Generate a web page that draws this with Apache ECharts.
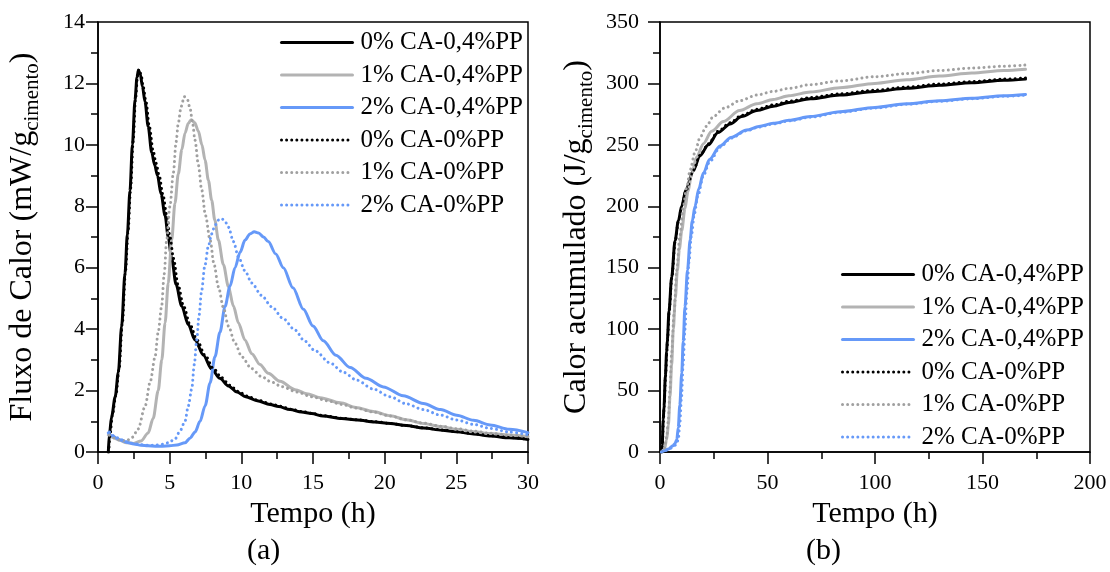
<!DOCTYPE html>
<html>
<head>
<meta charset="utf-8">
<script src="https://cdn.jsdelivr.net/npm/echarts@6/dist/echarts.min.js"></script>
<style>
html,body{margin:0;padding:0;background:#fff;}
#chart{width:1110px;height:572px;}
</style>
</head>
<body>
<div id="chart"></div>
<script>
// ---------- DATA ----------
const seriesNames = ['0% CA-0,4%PP','1% CA-0,4%PP','2% CA-0,4%PP','0% CA-0%PP','1% CA-0%PP','2% CA-0%PP'];

// (a) Heat flow [time h, mW/g]
const fluxo_0CA_04PP = [[0.72,0],[0.8,0.6],[0.95,1.15],[1.2,1.8],[1.42,2.6],[1.65,4.1],[1.88,5.8],[2.05,7.1],[2.23,8.5],[2.4,10.0],[2.58,11.45],[2.72,12.2],[2.82,12.44],[2.95,12.3],[3.1,11.9],[3.28,11.4],[3.5,10.6],[3.75,9.75],[3.95,9.35],[4.15,9.0],[4.4,8.4],[4.68,7.7],[4.9,7.0],[5.14,6.3],[5.45,5.45],[5.84,4.75],[6.3,4.15],[6.77,3.65],[7.35,3.15],[7.93,2.7],[8.5,2.4],[9.1,2.15],[9.7,1.95],[10.3,1.8],[11.1,1.67],[12.0,1.55],[12.6,1.48],[13.4,1.38],[14.2,1.3],[14.9,1.25],[15.7,1.17],[17,1.09],[18.1,1.04],[19.3,0.98],[20.4,0.93],[21.5,0.86],[22.7,0.78],[24,0.71],[25,0.66],[26.2,0.59],[27.4,0.52],[28.7,0.46],[30,0.41]];
const fluxo_1CA_04PP = [[0.72,0.55],[1.0,0.48],[1.5,0.38],[2.0,0.3],[2.5,0.28],[3.0,0.36],[3.5,0.62],[3.85,1.1],[4.2,2.0],[4.45,3.0],[4.68,4.2],[4.9,5.5],[5.14,6.9],[5.37,8.1],[5.6,9.05],[5.85,9.85],[6.07,10.38],[6.3,10.7],[6.5,10.82],[6.75,10.72],[7.0,10.45],[7.25,10.0],[7.47,9.5],[7.7,8.85],[7.93,8.2],[8.15,7.55],[8.4,6.9],[8.75,6.1],[9.1,5.38],[9.45,4.75],[9.8,4.2],[10.25,3.65],[10.73,3.2],[11.3,2.85],[11.88,2.56],[12.7,2.3],[13.75,2.03],[14.56,1.9],[15.5,1.77],[16.9,1.6],[18,1.45],[19.2,1.32],[20.4,1.18],[21.5,1.05],[22.7,0.93],[23.9,0.83],[25,0.74],[26.2,0.66],[27.4,0.6],[28.7,0.55],[30,0.5]];
const fluxo_2CA_04PP = [[0.72,0.62],[1.0,0.52],[1.5,0.4],[2.0,0.32],[2.5,0.26],[3.0,0.22],[3.5,0.2],[4.0,0.19],[4.5,0.19],[5.0,0.2],[5.5,0.23],[6.07,0.3],[6.42,0.45],[6.77,0.65],[7.12,1.0],[7.47,1.5],[7.82,2.25],[8.16,3.1],[8.51,3.9],[8.86,4.73],[9.21,5.4],[9.56,6.0],[9.91,6.5],[10.26,6.9],[10.6,7.1],[10.9,7.17],[11.2,7.13],[11.55,7.0],[11.88,6.85],[12.4,6.45],[12.93,6.0],[13.6,5.35],[14.33,4.65],[15.0,4.1],[15.72,3.62],[16.6,3.15],[17.59,2.75],[18.7,2.4],[19.91,2.12],[21.3,1.83],[22.7,1.58],[23.9,1.38],[25.03,1.2],[26.2,1.03],[27.36,0.88],[28.7,0.74],[30,0.63]];
const fluxo_0CA_0PP = [[0.75,0],[0.85,0.6],[1.0,1.2],[1.25,1.85],[1.47,2.7],[1.7,4.2],[1.92,5.9],[2.1,7.2],[2.28,8.6],[2.45,10.1],[2.62,11.5],[2.76,12.25],[2.86,12.45],[3.0,12.3],[3.15,11.9],[3.35,11.4],[3.58,10.6],[3.85,9.8],[4.05,9.4],[4.27,9.0],[4.52,8.4],[4.8,7.7],[5.02,7.0],[5.27,6.3],[5.58,5.45],[5.97,4.75],[6.42,4.15],[6.9,3.65],[7.47,3.15],[8.05,2.72],[8.62,2.42],[9.2,2.17],[9.8,1.97],[10.4,1.82],[11.2,1.68],[12.1,1.56],[12.7,1.49],[13.5,1.39],[14.3,1.31],[15.0,1.25],[15.8,1.18],[17,1.1],[18.1,1.05],[19.3,0.99],[20.4,0.93],[21.5,0.86],[22.7,0.79],[24,0.72],[25,0.66],[26.2,0.6],[27.4,0.53],[28.7,0.47],[30,0.42]];
const fluxo_1CA_0PP = [[0.8,0.55],[1.2,0.45],[1.6,0.38],[2.0,0.37],[2.4,0.48],[2.8,0.75],[3.28,1.48],[3.65,2.3],[3.98,3.1],[4.2,3.9],[4.44,4.75],[4.62,5.8],[4.79,6.9],[5.02,8.0],[5.26,9.1],[5.45,10.1],[5.6,10.7],[5.8,11.25],[6.02,11.57],[6.22,11.5],[6.42,11.2],[6.6,10.7],[6.77,10.15],[7.0,9.35],[7.23,8.55],[7.5,7.7],[7.82,6.9],[8.1,6.1],[8.4,5.38],[8.75,4.7],[9.1,4.1],[9.55,3.55],[10.03,3.1],[10.7,2.72],[11.42,2.45],[12.1,2.28],[12.82,2.13],[13.9,1.95],[14.9,1.8],[16,1.67],[17,1.55],[18,1.43],[19.2,1.3],[20.4,1.17],[21.5,1.05],[22.7,0.94],[23.9,0.84],[25,0.76],[26.2,0.68],[27.4,0.61],[28.7,0.55],[30,0.5]];
const fluxo_2CA_0PP = [[0.8,0.65],[1.2,0.5],[1.6,0.4],[2.0,0.33],[2.5,0.27],[3.0,0.24],[3.5,0.22],[4.0,0.22],[4.5,0.25],[4.9,0.3],[5.37,0.42],[5.72,0.68],[6.07,1.0],[6.3,1.5],[6.54,2.05],[6.72,2.85],[6.89,3.65],[7.05,4.45],[7.23,5.25],[7.45,6.05],[7.7,6.7],[7.93,7.1],[8.16,7.38],[8.4,7.55],[8.63,7.6],[8.85,7.52],[9.1,7.32],[9.45,6.85],[9.8,6.35],[10.25,5.9],[10.73,5.5],[11.4,5.1],[12.12,4.73],[12.9,4.35],[13.75,3.97],[14.4,3.62],[15.14,3.3],[16.19,2.9],[17.1,2.6],[18.05,2.34],[19.2,2.05],[20.38,1.8],[21.5,1.57],[22.7,1.38],[23.9,1.2],[25.03,1.04],[26.2,0.9],[27.36,0.77],[28.7,0.65],[30,0.56]];

// (b) Cumulative heat [time h, J/g]
const calor_0CA_04PP = [[0.7,0],[1.0,5],[1.5,26],[1.86,37],[2.5,62],[3.1,82],[3.4,91],[4.2,115],[5.4,142],[7.0,172],[8.5,188],[10.1,200],[12,213],[15.5,229],[18.5,241],[22.5,250],[27,260],[32.6,267],[38,273],[45,278],[52.7,281.5],[60,284.5],[70,287.5],[83.7,290.5],[100,293.5],[114.7,296],[130,298.5],[145,300.5],[160,302.5],[170,303.5]];
const calor_1CA_04PP = [[0.7,0],[2.0,2],[3.1,10],[3.9,22],[4.65,45],[5.4,70],[6.2,100],[7.1,125],[8.1,148],[9.0,165],[10.1,180],[11.6,198],[13,212],[14.7,226],[17,240],[20.2,251],[24,261],[29.5,269],[37,278],[45,283.5],[52.7,287],[60,290],[70,293],[83.7,296.5],[100,300],[114.7,303],[130,306],[145,308.5],[160,310.5],[170,311.5]];
const calor_2CA_04PP = [[0.7,0],[2,1],[4,2.5],[6,5],[7,7],[7.8,10],[8.5,20],[9.2,38],[10.1,64],[10.8,90],[11.6,118],[12.8,148],[14,172.5],[15,188],[16.3,200],[18,214],[20.2,227],[23,238],[27.9,249],[33,256],[40.3,262],[46,265],[52.7,267.5],[60,270],[70,273],[83.7,277],[100,280.5],[114.7,283.5],[130,286],[145,288],[160,290],[170,291]];
const calor_0CA_0PP = [[0.75,0],[1.1,5],[1.6,26],[1.95,37],[2.6,62],[3.2,82],[3.5,91],[4.3,115],[5.5,142],[7.1,172],[8.6,188],[10.2,200],[12.1,213],[15.6,229.5],[18.6,241.5],[22.6,251],[27,261],[32.6,268],[38,274],[45,279],[52.7,282.5],[60,285.5],[70,288.5],[83.7,291.5],[100,294.5],[114.7,297],[130,299.5],[145,301.5],[160,303.5],[170,304.5]];
const calor_1CA_0PP = [[0.7,0],[1.8,2],[3.1,12],[3.9,26],[4.6,50],[5.4,80],[6.5,112],[7.8,148],[9.2,175],[10.8,199],[12.4,215],[14,229.5],[16.3,244],[18.6,256],[21.5,265],[24.8,273],[30,280],[37.2,286],[45,290.5],[52.7,293.5],[60,296],[70,299],[83.7,302],[100,305.5],[114.7,308],[130,310.5],[145,312.5],[160,314],[170,315]];
const calor_2CA_0PP = [[0.7,0],[2,1],[4,2],[6,4],[7.5,6],[8.5,10],[9.2,22],[10,45],[10.8,72],[11.6,100],[12.5,130],[13.5,155],[14.5,175],[16,194],[17.5,208],[20.2,225],[23,236],[27.9,248],[33,255.5],[40.3,261.5],[46,264.5],[52.7,267],[60,269.5],[70,272.5],[83.7,276.5],[100,280],[114.7,283],[130,285.5],[145,287.5],[160,289.5],[170,290.5]];

const fluxoData = [fluxo_0CA_04PP, fluxo_1CA_04PP, fluxo_2CA_04PP, fluxo_0CA_0PP, fluxo_1CA_0PP, fluxo_2CA_0PP];
const calorData = [calor_0CA_04PP, calor_1CA_04PP, calor_2CA_04PP, calor_0CA_0PP, calor_1CA_0PP, calor_2CA_0PP];

// ---------- STYLE ----------
const FONT = 'Liberation Serif';
const lineColors = ['#000000', '#b3b3b3', '#6699f8', '#000000', '#a0a0a0', '#6699f8'];
const DOT = [0.01, 5.1];
const lineTypes = ['solid', 'solid', 'solid', DOT, DOT, DOT];

function axisCommon(extra) {
  return Object.assign({
    type: 'value',
    axisLine: { show: true, onZero: false, lineStyle: { color: '#000', width: 1.5 } },
    axisTick: { show: true, inside: false, length: 12, lineStyle: { color: '#000', width: 1.5 } },
    minorTick: { show: true, splitNumber: 2, length: 7, lineStyle: { color: '#000', width: 1.5 } },
    splitLine: { show: false },
    nameTextStyle: { color: '#000', fontFamily: FONT, fontSize: 30 }
  }, extra);
}

function tickLabel(margin) {
  return {
    show: true, color: '#000', fontFamily: FONT, fontSize: 22, margin: margin,
    formatter: '{t|{value}}',
    rich: { t: { fontFamily: FONT, fontSize: 22, color: '#000' } }
  };
}

const yRich = {
  m: { fontFamily: FONT, fontSize: 32, lineHeight: 40, color: '#000' },
  s: { fontFamily: FONT, fontSize: 21, lineHeight: 21, verticalAlign: 'bottom', color: '#000' }
};

const series = [];
seriesNames.forEach((n, i) => {
  const ls = { color: lineColors[i], width: 3, type: lineTypes[i], cap: 'round', join: 'round' };
  series.push({ name: n, type: 'line', xAxisIndex: 0, yAxisIndex: 0, data: fluxoData[i],
    symbol: 'none', smooth: 0.3, smoothMonotone: 'x', lineStyle: ls, itemStyle: { color: lineColors[i] } });
  series.push({ name: n, type: 'line', xAxisIndex: 1, yAxisIndex: 1, data: calorData[i],
    symbol: 'none', smooth: 0.3, smoothMonotone: 'x', lineStyle: ls, itemStyle: { color: lineColors[i] } });
});

function legendCfg(left, top) {
  return {
    orient: 'vertical', left: left, top: top, padding: 0,
    itemWidth: 71, itemHeight: 25, itemGap: 7.5,
    selectedMode: false,
    data: seriesNames,
    lineStyle: { width: 3 },
    itemStyle: { opacity: 0, color: 'rgba(0,0,0,0)', borderWidth: 0 },
    formatter: '{t|{name}}',
    textStyle: {
      fontFamily: FONT, fontSize: 25, lineHeight: 25, color: '#000', padding: [0, 0, 0, 3],
      rich: { t: { fontFamily: FONT, fontSize: 25, lineHeight: 25, color: '#000' } }
    }
  };
}

const option = {
  backgroundColor: '#fff',
  animation: false,
  textStyle: { fontFamily: FONT },
  title: [
    { text: '(a)', left: 247, top: 536, padding: 0, textStyle: { fontFamily: FONT, fontSize: 30, fontWeight: 'normal', color: '#000' } },
    { text: '(b)', left: 806, top: 536, padding: 0, textStyle: { fontFamily: FONT, fontSize: 30, fontWeight: 'normal', color: '#000' } }
  ],
  grid: [
    { left: 98, right: 582, top: 22, bottom: 120, show: true, borderColor: '#000', borderWidth: 1.5, backgroundColor: 'transparent' },
    { left: 660, right: 20, top: 22, bottom: 120, show: true, borderColor: '#000', borderWidth: 1.5, backgroundColor: 'transparent' }
  ],
  xAxis: [
    axisCommon({ gridIndex: 0, min: 0, max: 30, interval: 5, name: 'Tempo (h)', nameLocation: 'middle', nameGap: 47,
      axisLabel: tickLabel(20) }),
    axisCommon({ gridIndex: 1, min: 0, max: 200, interval: 50, name: 'Tempo (h)', nameLocation: 'middle', nameGap: 47,
      axisLabel: tickLabel(20) })
  ],
  yAxis: [
    axisCommon({ gridIndex: 0, min: 0, max: 14, interval: 2,
      name: '{m|Fluxo de Calor (mW/g}{s|cimento}{m|)}', nameLocation: 'middle', nameGap: 55, nameRotate: 90,
      nameTextStyle: { rich: yRich },
      axisLabel: tickLabel(13) }),
    axisCommon({ gridIndex: 1, min: 0, max: 350, interval: 50,
      name: '{m|Calor acumulado (J/g}{s|cimento}{m|)}', nameLocation: 'middle', nameGap: 63, nameRotate: 90,
      nameTextStyle: { rich: yRich },
      axisLabel: tickLabel(21) })
  ],
  legend: [legendCfg(280, 30), legendCfg(841, 262)],
  series: series
};

const chart = echarts.init(document.getElementById('chart'), null, { renderer: 'canvas' });
chart.setOption(option);
</script>
</body>
</html>
